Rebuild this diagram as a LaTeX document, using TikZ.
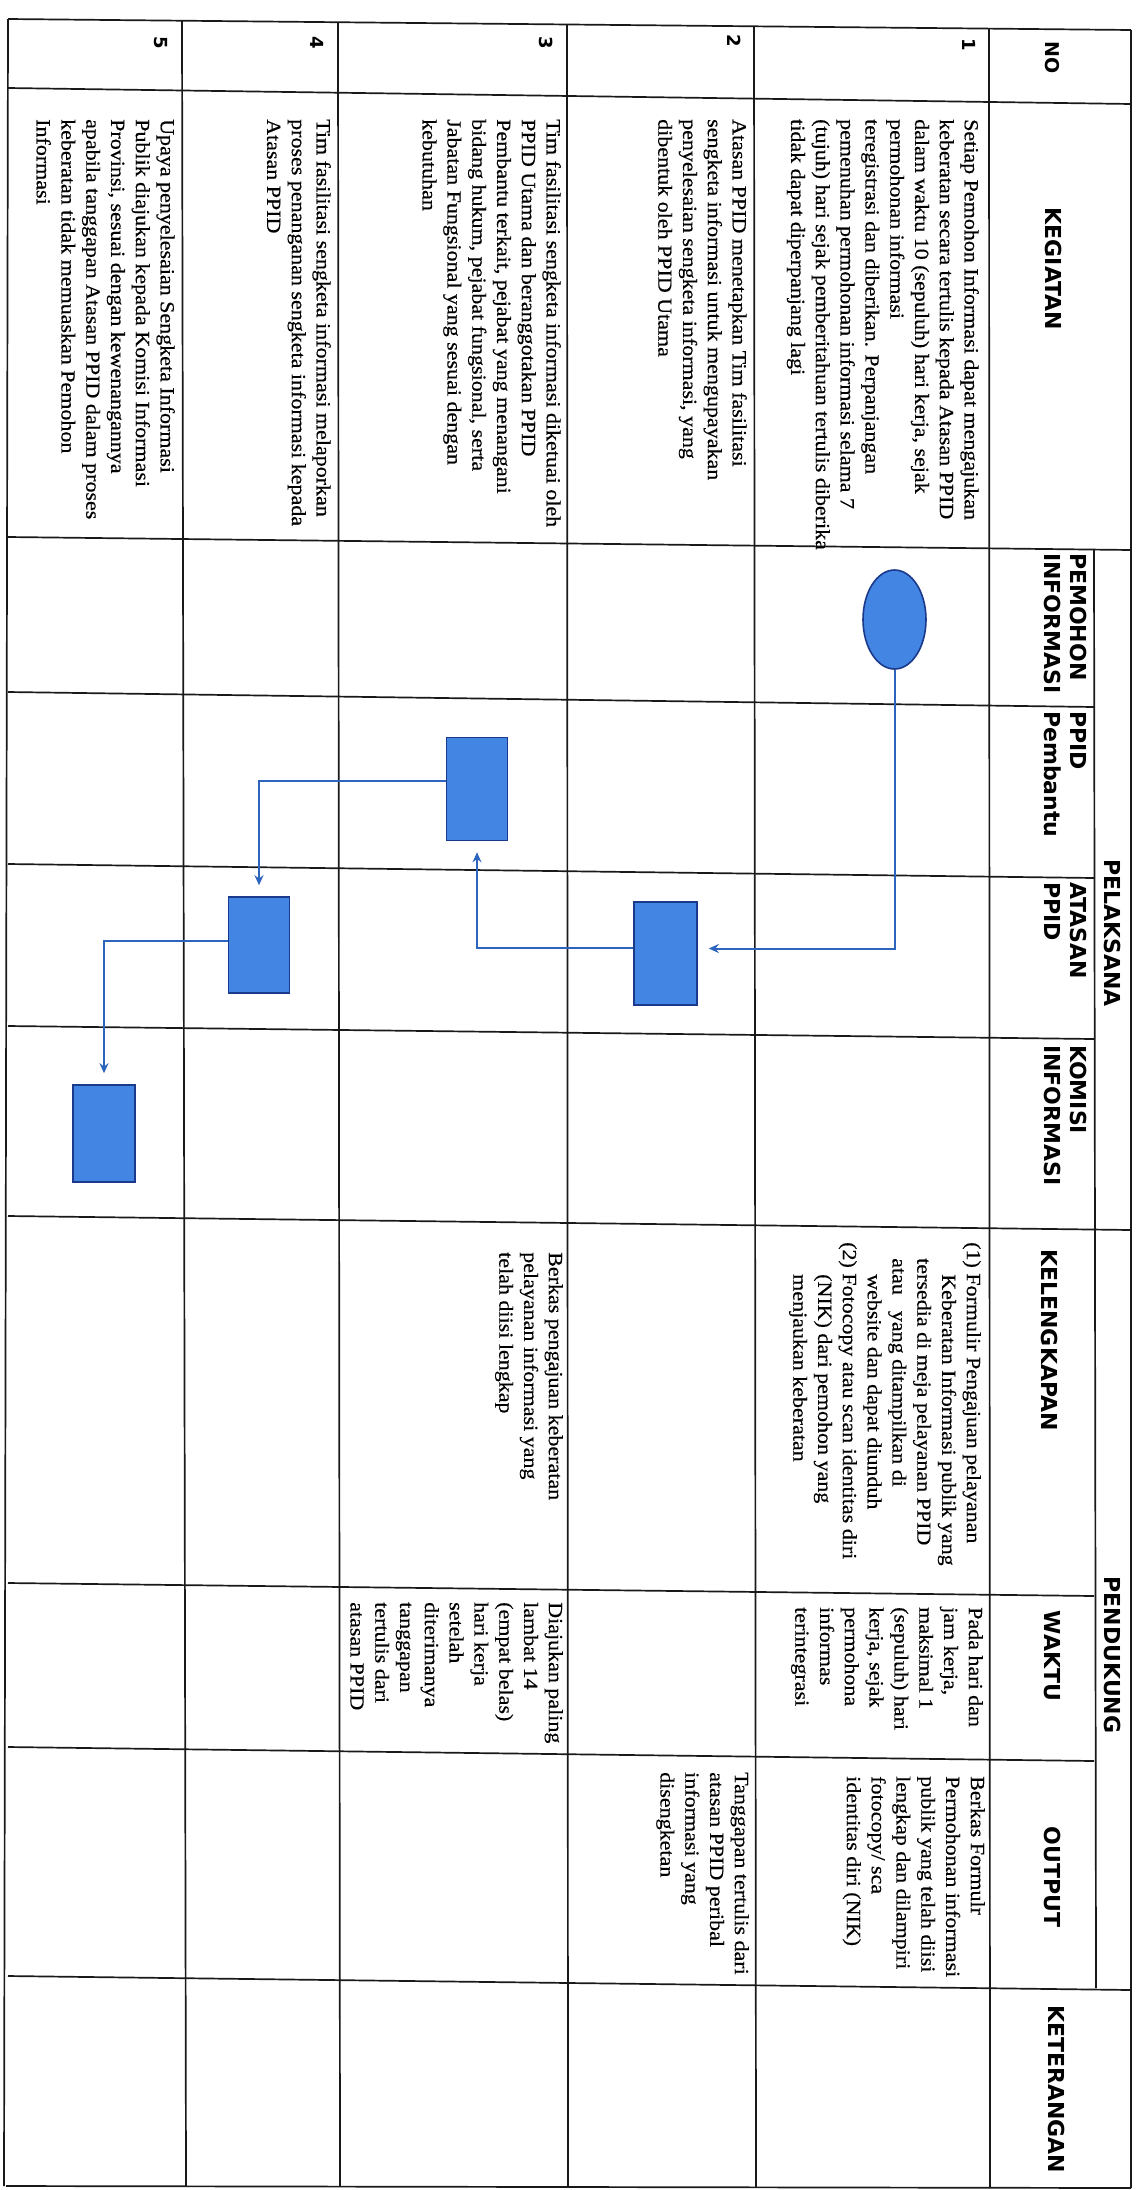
\documentclass[tikz,border=0pt]{standalone}
\usepackage{fontspec}
\setmainfont{Liberation Serif}
\newfontfamily\bodyfont{Liberation Serif}[FakeStretch=1.1,FakeBold=0.4]
\newfontfamily\hdrfont{DejaVu Sans}
\usetikzlibrary{arrows.meta,shapes.geometric}
\definecolor{shapefill}{RGB}{66,133,226}
\definecolor{shapeedge}{RGB}{28,58,140}
\definecolor{flowblue}{RGB}{45,100,190}
\tikzset{
  tline/.style={line width=1.7pt, draw=black!90},
  hdr/.style={font=\hdrfont\bfseries\fontsize{22}{26}\selectfont, rotate=-90, inner sep=0pt},
  hdrtwo/.style={hdr, anchor=north west, align=left},
  numtxt/.style={font=\hdrfont\bfseries\fontsize{18}{22}\selectfont, rotate=-90, anchor=north west, inner sep=0pt},
  celltxt/.style={font=\bodyfont\fontsize{20}{24.8}\selectfont, rotate=-90, anchor=north west, align=left, inner sep=0pt},
  procbox/.style={rectangle, draw=shapeedge, fill=shapefill, line width=1.6pt, inner sep=0pt},
  startbox/.style={ellipse, draw=shapeedge, fill=shapefill, line width=1.6pt, inner sep=0pt},
  flowline/.style={draw=flowblue, line width=2pt, -{Stealth[length=10pt,width=9pt]}, shorten >=11pt}
}
\begin{document}
\begin{tikzpicture}[x=1pt,y=-1pt]
\useasboundingbox (0,0) rectangle (1140,2190);
\fill[white] (0,0) rectangle (1140,2190);

% ---- table grid (scan is slightly skewed) ----
\draw[tline] (8,19) -- (1131,30);
\draw[tline] (8,88) -- (1131,104);
\draw[tline] (8,537) -- (1131,550);
\draw[tline] (8,692) -- (1094,707);
\draw[tline] (8,864) -- (1094,878);
\draw[tline] (8,1026) -- (1094,1039);
\draw[tline] (8,1216) -- (1131,1230);
\draw[tline] (8,1583) -- (1094,1596);
\draw[tline] (8,1747) -- (1094,1761);
\draw[tline] (8,1976) -- (1131,1990);
\draw[tline] (6,2186) -- (1131,2188);
\draw[tline] (8,19) -- (4,2186);
\draw[tline] (182,21) -- (186,2186);
\draw[tline] (338,22) -- (340,2186);
\draw[tline] (567,25) -- (568,2187);
\draw[tline] (754,27) -- (756,2187);
\draw[tline] (989,29) -- (990,2188);
\draw[tline] (1094,550) -- (1096,1988);
\draw[tline] (1131,30) -- (1131,2188);

% ---- headers ----
\node[hdr, font=\hdrfont\bfseries\fontsize{19}{22}\selectfont] (hNo) at (1052,58) {NO};
\node[hdr] (hKeg) at (1053,269) {KEGIATAN};
\node[hdr] (hPel) at (1112,933) {PELAKSANA};
\node[hdr] (hPen) at (1112,1655) {PENDUKUNG};
\node[hdrtwo] (hPem) at (1087,553) {PEMOHON\\INFORMASI};
\node[hdrtwo] (hPpid) at (1087,711) {PPID\\Pembantu};
\node[hdrtwo] (hAts) at (1087,882) {ATASAN\\PPID};
\node[hdrtwo] (hKom) at (1087,1045) {KOMISI\\INFORMASI};
\node[hdr] (hKel) at (1049,1340) {KELENGKAPAN};
\node[hdr] (hWak) at (1052,1656) {WAKTU};
\node[hdr] (hOut) at (1052,1877) {OUTPUT};
\node[hdr] (hKet) at (1056,2089) {KETERANGAN};

% ---- row numbers ----
\node[numtxt] (n1) at (976,38) {1};
\node[numtxt] (n2) at (741,34) {2};
\node[numtxt] (n3) at (553,36) {3};
\node[numtxt] (n4) at (324,36) {4};
\node[numtxt] (n5) at (168,36) {5};

% ---- KEGIATAN ----
\node[celltxt] (k1) at (979,119) {Setiap Pemohon Informasi dapat mengajukan\\
keberatan secara tertulis kepada Atasan PPID\\
dalam waktu 10 (sepuluh) hari kerja, sejak\\
permohonan informasi\\
teregistrasi dan diberikan. Perpanjangan\\
pemenuhan permohonan informasi selama 7\\
(tujuh) hari sejak pemberitahuan tertulis diberika\\
tidak dapat diperpanjang lagi};
\node[celltxt] (k2) at (747,119) {Atasan PPID menetapkan Tim fasilitasi\\
sengketa informasi untuk mengupayakan\\
penyelesaian sengketa informasi, yang\\
dibentuk oleh PPID Utama};
\node[celltxt] (k3) at (561,119) {Tim fasilitasi sengketa informasi diketuai oleh\\
PPID Utama dan beranggotakan PPID\\
Pembantu terkait, pejabat yang menangani\\
bidang hukum, pejabat fungsional, serta\\
Jabatan Fungsional yang sesuai dengan\\
kebutuhan};
\node[celltxt] (k4) at (331,119) {Tim fasilitasi sengketa informasi melaporkan\\
proses penanganan sengketa informasi kepada\\
Atasan PPID};
\node[celltxt] (k5) at (175,119) {Upaya penyelesaian Sengketa Informasi\\
Publik diajukan kepada Komisi Informasi\\
Provinsi, sesuai dengan kewenangannya\\
apabila tanggapan Atasan PPID dalam proses\\
keberatan tidak memuaskan Pemohon\\
Informasi};

% ---- KELENGKAPAN ----
\node[celltxt] (l1) at (981,1242) {(1) Formulir Pengajuan pelayanan\\
\hspace*{32pt}Keberatan Informasi publik yang\\
\hspace*{16pt}tersedia di meja pelayanan PPID\\
\hspace*{16pt}atau\hspace{16pt}yang ditampilkan di\\
\hspace*{32pt}website dan dapat diunduh\\
(2) Fotocopy atau scan identitas diri\\
\hspace*{32pt}(NIK) dari pemohon yang\\
\hspace*{32pt}menjaukan keberatan};
\node[celltxt] (l3) at (563,1252) {Berkas pengajuan keberatan\\
pelayanan informasi yang\\
telah diisi lengkap};

% ---- WAKTU ----
\node[celltxt] (w1) at (983,1607) {Pada hari dan\\
jam kerja,\\
maksimal 1\\
(sepuluh) hari\\
kerja, sejak\\
permohona\\
informas\\
terintegrasi};
\node[celltxt] (w3) at (563,1602) {Diajukan paling\\
lambat 14\\
(empat belas)\\
hari kerja\\
setelah\\
diterimanya\\
tanggapan\\
tertulis dari\\
atasan PPID};

% ---- OUTPUT ----
\node[celltxt] (o1) at (985,1776) {Berkas Formulr\\
Permohonan informasi\\
publik yang telah diisi\\
lengkap dan dilampiri\\
fotocopy/ sca\\
identitas diri (NIK)};
\node[celltxt] (o2) at (749,1772) {Tanggapan tertulis dari\\
atasan PPID peribal\\
informasi yang\\
disengketan};

% ---- flow shapes ----
\node[startbox, minimum width=63pt, minimum height=99pt] (el) at (894.5,619.5) {};
\node[procbox, minimum width=63pt, minimum height=103pt] (r2) at (665.5,953.5) {};
\node[procbox, minimum width=61pt, minimum height=103pt] (r3) at (477,789) {};
\node[procbox, minimum width=61pt, minimum height=96pt] (r4) at (259,945) {};
\node[procbox, minimum width=62pt, minimum height=97pt] (r5) at (104,1133.5) {};

% ---- connectors ----
\draw[flowline] (el.south) |- ([yshift=5pt]r2.east);
\draw[flowline] ([yshift=6pt]r2.west) -| (r3.south);
\draw[flowline] ([yshift=8pt]r3.west) -| (r4.north);
\draw[flowline] ([yshift=4pt]r4.west) -| (r5.north);
\end{tikzpicture}
\end{document}
